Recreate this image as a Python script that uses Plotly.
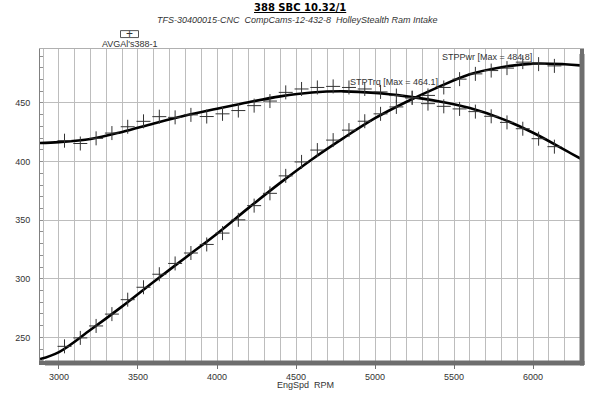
import plotly.graph_objects as go

# ---- data ----
rpm_pts = [3035, 3135, 3235, 3335, 3435, 3535, 3635, 3735, 3835, 3935,
           4035, 4135, 4235, 4335, 4435, 4535, 4635, 4735, 4835, 4935,
           5035, 5135, 5235, 5335, 5435, 5535, 5635, 5735, 5835, 5935,
           6035, 6135]
torque_pts = [417.8, 415.4, 419.8, 424.3, 429.7, 434.3, 438.3, 437.7, 439.8, 438.4,
              440.7, 443.5, 447.7, 451.6, 459.0, 461.9, 463.2, 464.1, 463.2, 461.9,
              459.4, 456.3, 454.2, 449.4, 447.1, 444.9, 442.6, 438.6, 433.4, 428.0,
              419.5, 412.7]
power_pts = [242.4, 249.6, 259.8, 269.9, 282.2, 292.8, 303.9, 313.1, 322.0, 329.3,
             339.0, 350.3, 362.4, 372.9, 387.8, 399.7, 409.8, 418.3, 426.8, 434.4,
             440.7, 446.6, 454.6, 456.4, 463.2, 470.3, 474.8, 477.6, 479.7, 484.8,
             483.1, 481.6]

fit_rpm = [2880, 3000, 3200, 3400, 3600, 3800, 4000, 4200, 4400, 4600,
           4800, 5000, 5200, 5400, 5600, 5800, 6000, 6200, 6300]
trq_fit = [415.8, 416.6, 419.3, 425.3, 432.5, 439.3, 445.0, 450.6, 455.6, 458.9,
           459.9, 458.6, 455.6, 451.5, 445.6, 436.6, 424.6, 410.0, 402.5]
pwr_fit = [231.5, 237.5, 256.5, 276.5, 297.5, 318.0, 338.5, 360.5, 381.8, 401.8,
           420.0, 437.0, 451.0, 463.5, 474.5, 480.5, 483.5, 483.0, 482.0]

x_ticks = [3000, 3500, 4000, 4500, 5000, 5500, 6000]
y_ticks = [250, 300, 350, 400, 450]

title = "388 SBC 10.32/1"
subtitle = "TFS-30400015-CNC  CompCams-12-432-8  HolleyStealth Ram Intake"
legend_name = "AVGAl's388-1"
trq_label = "STPTrq [Max = 464.1]"
pwr_label = "STPPwr [Max = 484.8]"
x_title = "EngSpd  RPM"

FONT = "Liberation Sans, Arial, sans-serif"
GRID = "#bdbdbd"
BAR = "#6e6e6e"
X_RANGE = [2880, 6297]
Y_RANGE = [229.9, 496]

fig = go.Figure()
for yfit in (trq_fit, pwr_fit):
    fig.add_trace(go.Scatter(x=fit_rpm, y=yfit, mode="lines",
                             line=dict(color="black", width=2.6, shape="spline", smoothing=1.0)))
for ypts in (torque_pts, power_pts):
    fig.add_trace(go.Scatter(x=rpm_pts, y=ypts, mode="markers",
                             marker=dict(symbol="cross-thin", size=10,
                                         line=dict(color="#333333", width=1))))
# empty trace so the frame axes (top / right) get drawn
fig.add_trace(go.Scatter(x=[None], y=[None], xaxis="x2", yaxis="y2", mode="lines"))

L, R, T, B = 40, 20, 49, 31
W, H = 600, 394
pw, ph = W - L - R, H - T - B

def px(x):
    return (x - L) / pw

def py(y):
    return (H - B - y) / ph

fig.update_layout(
    width=W, height=H,
    margin=dict(l=L, r=R, t=T, b=B),
    paper_bgcolor="white", plot_bgcolor="white",
    font=dict(family=FONT, size=9, color="#333333"),
    showlegend=False,
    xaxis=dict(range=X_RANGE, tickmode="array", tickvals=x_ticks,
               showgrid=True, gridcolor=GRID, gridwidth=1,
               minor=dict(tickmode="linear", dtick=100, tick0=3000, showgrid=True,
                          gridcolor=GRID, gridwidth=1, ticks=""),
               ticks="outside", ticklen=4, tickcolor="#707070",
               showline=True, linecolor=BAR, linewidth=4, mirror=False, zeroline=False),
    yaxis=dict(range=Y_RANGE, tickmode="array", tickvals=y_ticks,
               showgrid=True, gridcolor=GRID, gridwidth=1,
               minor=dict(tickmode="linear", dtick=10, tick0=250, showgrid=False,
                          ticks="inside", ticklen=3, tickcolor="#909090"),
               ticks="outside", ticklen=7, tickcolor="#ffffff",
               showline=True, linecolor="#808080", linewidth=1, mirror=False, zeroline=False),
    xaxis2=dict(range=X_RANGE, overlaying="x", side="top", showline=True,
                linecolor="#b0b0b0", linewidth=1, showgrid=False, zeroline=False,
                showticklabels=False, ticks=""),
    yaxis2=dict(range=Y_RANGE, overlaying="y", side="right", showline=True,
                linecolor=BAR, linewidth=4, showgrid=False, zeroline=False,
                showticklabels=False, ticks=""),
)

# frame shadow bars (drawn also as shapes, same place as the thick axis lines)
fig.add_shape(type="rect", xref="paper", yref="paper",
              x0=px(45), x1=px(584), y0=py(367), y1=py(363),
              fillcolor=BAR, line=dict(color=BAR, width=1))
fig.add_shape(type="rect", xref="paper", yref="paper",
              x0=px(580), x1=px(584), y0=py(367), y1=py(54),
              fillcolor=BAR, line=dict(color=BAR, width=1))
# legend box
fig.add_shape(type="rect", xref="paper", yref="paper",
              x0=px(120.5), x1=px(138.5), y0=py(37.5), y1=py(30.5),
              fillcolor="white", line=dict(color="#555555", width=1))

fig.add_annotation(text="<b><u>" + title + "</u></b>", x=px(300), y=py(7.5),
                   xref="paper", yref="paper", showarrow=False,
                   font=dict(family="DejaVu Sans", size=10, color="black"),
                   xanchor="center", yanchor="middle")
fig.add_annotation(text="<i>" + subtitle + "</i>", x=px(297), y=py(20),
                   xref="paper", yref="paper", showarrow=False,
                   xanchor="center", yanchor="middle")
fig.add_annotation(text="+", x=px(129.5), y=py(34), xref="paper", yref="paper",
                   showarrow=False, font=dict(size=12),
                   xanchor="center", yanchor="middle")
fig.add_annotation(text=legend_name, x=px(129.5), y=py(43.5), xref="paper", yref="paper",
                   showarrow=False, xanchor="center", yanchor="middle")
fig.add_annotation(text=trq_label, x=px(348.3), y=py(82.3), xref="paper", yref="paper",
                   showarrow=False, xanchor="left", yanchor="middle")
fig.add_annotation(text=pwr_label, x=px(440), y=py(57.3), xref="paper", yref="paper",
                   showarrow=False, xanchor="left", yanchor="middle")
fig.add_annotation(text=x_title, x=px(305), y=py(387.5), xref="paper", yref="paper",
                   showarrow=False, xanchor="center", yanchor="middle")

fig.write_html("out.html", config={"displayModeBar": False, "staticPlot": True},
               post_script="document.body.style.margin='0';")
